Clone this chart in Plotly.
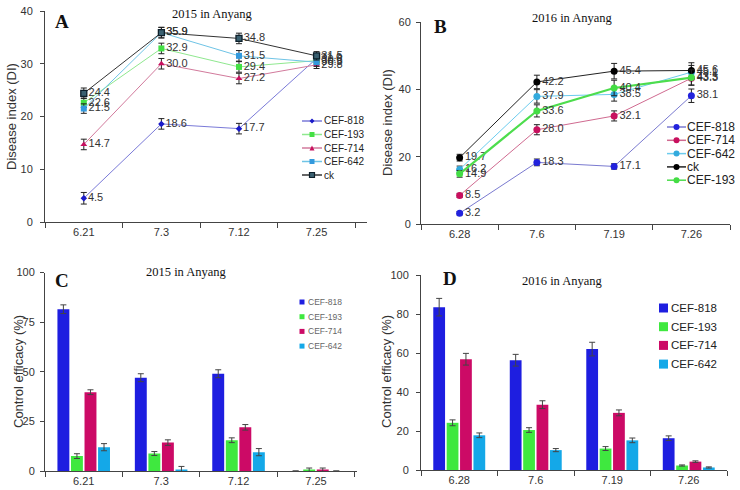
import plotly.graph_objects as go

W, H = 740, 490

# ---- panel A: disease index 2015
dates_2015 = ['6.21', '7.3', '7.12', '7.25']
di15_818 = [4.5, 18.6, 17.7, 31.0]
di15_193 = [22.6, 32.9, 29.4, 30.6]
di15_714 = [14.7, 30.0, 27.2, 29.8]
di15_642 = [21.5, 35.9, 31.5, 30.3]
di15_ck = [24.4, 35.9, 34.8, 31.5]
err15_818 = [1.1, 1.0, 1.0, 0.8]
err15_193 = [0.9, 1.0, 1.0, 0.7]
err15_714 = [1.0, 1.0, 1.0, 0.7]
err15_642 = [0.9, 1.0, 1.0, 0.8]
err15_ck = [1.0, 1.0, 1.0, 0.8]

# ---- panel B: disease index 2016
dates_2016 = ['6.28', '7.6', '7.19', '7.26']
di16_818 = [3.2, 18.3, 17.1, 38.1]
di16_714 = [8.5, 28.0, 32.1, 43.3]
di16_642 = [16.2, 37.9, 38.5, 45.1]
di16_ck = [19.7, 42.2, 45.4, 45.6]
di16_193 = [14.9, 33.6, 40.4, 43.5]
err16_818 = [0.5, 1.0, 0.8, 2.0]
err16_714 = [0.6, 1.5, 1.5, 2.0]
err16_642 = [1.0, 2.0, 2.0, 2.0]
err16_ck = [1.0, 2.0, 2.3, 2.3]
err16_193 = [1.0, 1.8, 2.3, 2.3]

# ---- panel C: control efficacy 2015
ce15_818 = [81.5, 47.0, 49.0, 0.0]
ce15_193 = [7.5, 8.8, 15.5, 0.3]
ce15_714 = [39.7, 14.3, 22.0, 0.5]
ce15_642 = [12.0, 0.8, 9.5, 0.0]
cerr15_818 = [2.2, 2.0, 2.0, 0.0]
cerr15_193 = [1.2, 1.0, 1.2, 1.2]
cerr15_714 = [1.2, 1.4, 1.4, 1.0]
cerr15_642 = [1.8, 1.5, 1.8, 0.0]

# ---- panel D: control efficacy 2016
ce16_818 = [83.5, 56.3, 62.0, 16.3]
ce16_193 = [24.2, 20.5, 11.0, 2.3]
ce16_714 = [56.8, 33.5, 29.3, 4.3]
ce16_642 = [17.8, 10.2, 15.2, 1.3]
cerr16_818 = [4.5, 3.0, 3.5, 1.2]
cerr16_193 = [1.5, 1.2, 1.0, 0.3]
cerr16_714 = [3.0, 2.0, 1.5, 0.4]
cerr16_642 = [1.2, 0.8, 1.2, 0.3]

C818, C193, C714, C642 = '#1e1ee0', '#3fe83f', '#cc0a66', '#14a8e8'

# line styles: (marker colour, line colour, symbol, size)
STYLE_A = {
    'CEF-818': ('#1a1ac8', '#7a7ad8', 'diamond', 5),
    'CEF-193': ('#44e044', '#8fe88f', 'square', 6),
    'CEF-714': ('#c8105e', '#d27a9c', 'triangle-up', 6),
    'CEF-642': ('#3399dd', '#6fc4e6', 'square', 6),
    'ck': ('#3a6070', '#333333', 'square', 6),
}
STYLE_B = {
    'CEF-818': ('#2222dd', '#7a7ad0', 'circle', 7),
    'CEF-714': ('#c8105e', '#d06a90', 'circle', 7),
    'CEF-642': ('#33aadd', '#6cccee', 'circle', 7),
    'ck': ('#000000', '#222222', 'circle', 7),
    'CEF-193': ('#44dd44', '#4ddd4d', 'circle', 7),
}


def px(x):
    return x / W


def py(y):
    return 1 - y / H


fig = go.Figure()


def line_trace(x, y, err, name, style, xa, ya, width=1):
    mcol, lcol, symbol, size = style
    mline = dict(color='#0d1f2a', width=1.3) if name == 'ck' and symbol == 'square' else dict(width=0)
    return go.Scatter(
        x=x, y=y, name=name, mode='lines+markers+text',
        texttemplate='%{y:.1f}', textposition='middle right',
        textfont=dict(size=11, color='#333'),
        line=dict(color=lcol, width=width),
        marker=dict(color=mcol, symbol=symbol, size=size, line=mline),
        error_y=dict(type='data', array=err, color='#222', thickness=1, width=3),
        xaxis=xa, yaxis=ya, showlegend=False, cliponaxis=False)


# Panel A traces
fig.add_trace(line_trace(dates_2015, di15_818, err15_818, 'CEF-818', STYLE_A['CEF-818'], 'x', 'y'))
fig.add_trace(line_trace(dates_2015, di15_193, err15_193, 'CEF-193', STYLE_A['CEF-193'], 'x', 'y'))
fig.add_trace(line_trace(dates_2015, di15_714, err15_714, 'CEF-714', STYLE_A['CEF-714'], 'x', 'y'))
fig.add_trace(line_trace(dates_2015, di15_642, err15_642, 'CEF-642', STYLE_A['CEF-642'], 'x', 'y'))
fig.add_trace(line_trace(dates_2015, di15_ck, err15_ck, 'ck', STYLE_A['ck'], 'x', 'y'))

# Panel B traces
fig.add_trace(line_trace(dates_2016, di16_818, err16_818, 'CEF-818', STYLE_B['CEF-818'], 'x2', 'y2'))
fig.add_trace(line_trace(dates_2016, di16_714, err16_714, 'CEF-714', STYLE_B['CEF-714'], 'x2', 'y2'))
fig.add_trace(line_trace(dates_2016, di16_642, err16_642, 'CEF-642', STYLE_B['CEF-642'], 'x2', 'y2'))
fig.add_trace(line_trace(dates_2016, di16_ck, err16_ck, 'ck', STYLE_B['ck'], 'x2', 'y2'))
fig.add_trace(line_trace(dates_2016, di16_193, err16_193, 'CEF-193', STYLE_B['CEF-193'], 'x2', 'y2',
                         width=2.2))


def bar_trace(x, y, err, name, color, xa, ya):
    return go.Bar(x=x, y=y, name=name, marker=dict(color=color, line=dict(width=0)),
                  error_y=dict(type='data', array=err, color='#444', thickness=1, width=3),
                  xaxis=xa, yaxis=ya, showlegend=False)


# Panel C bars
fig.add_trace(bar_trace(dates_2015, ce15_818, cerr15_818, 'CEF-818', C818, 'x3', 'y3'))
fig.add_trace(bar_trace(dates_2015, ce15_193, cerr15_193, 'CEF-193', C193, 'x3', 'y3'))
fig.add_trace(bar_trace(dates_2015, ce15_714, cerr15_714, 'CEF-714', C714, 'x3', 'y3'))
fig.add_trace(bar_trace(dates_2015, ce15_642, cerr15_642, 'CEF-642', C642, 'x3', 'y3'))

# Panel D bars
fig.add_trace(bar_trace(dates_2016, ce16_818, cerr16_818, 'CEF-818', C818, 'x4', 'y4'))
fig.add_trace(bar_trace(dates_2016, ce16_193, cerr16_193, 'CEF-193', C193, 'x4', 'y4'))
fig.add_trace(bar_trace(dates_2016, ce16_714, cerr16_714, 'CEF-714', C714, 'x4', 'y4'))
fig.add_trace(bar_trace(dates_2016, ce16_642, cerr16_642, 'CEF-642', C642, 'x4', 'y4'))

tickfont = dict(family='Liberation Sans, Arial', size=11, color='#333')
xcommon = dict(type='category', showline=True, linecolor='#444', linewidth=1,
               ticks='outside', tickson='boundaries', ticklen=5, tickcolor='#444',
               showgrid=False, tickfont=tickfont, range=[-0.5, 3.5], zeroline=False,
               automargin=False)
ycommon = dict(showline=True, linecolor='#444', linewidth=1, ticks='outside',
               ticklen=4, tickcolor='#444', showgrid=False, tickfont=tickfont,
               zeroline=False, automargin=False)

fig.update_layout(
    width=W, height=H, margin=dict(l=0, r=0, t=0, b=0, autoexpand=False),
    paper_bgcolor='white', plot_bgcolor='white', showlegend=False,
    barmode='group', bargap=0.3, bargroupgap=0.12,
    font=dict(family='Liberation Sans, Arial', color='#333'),
    xaxis=dict(xcommon, domain=[px(45), px(367)], range=[-0.5, 3.65], anchor='y'),
    yaxis=dict(ycommon, domain=[py(222), py(11)], range=[0, 40], dtick=10, anchor='x',
               ticklabelstandoff=5),
    xaxis2=dict(xcommon, domain=[px(421), px(730)], anchor='y2'),
    yaxis2=dict(ycommon, domain=[py(224), py(22)], range=[0, 60], dtick=20, anchor='x2',
                ticklabelstandoff=3),
    xaxis3=dict(xcommon, domain=[px(45), px(357)], range=[-0.5, 3.53], anchor='y3'),
    yaxis3=dict(ycommon, domain=[py(471), py(272.5)], range=[0, 100], dtick=25, anchor='x3',
                ticklabelstandoff=3),
    xaxis4=dict(xcommon, domain=[px(421), px(727)], anchor='y4'),
    yaxis4=dict(ycommon, domain=[py(470), py(275)], range=[0, 100], dtick=20, anchor='x4',
                ticklabelstandoff=5),
)


# ---- hand-built legends (tighter spacing than plotly's own legend)
def marker_shape(kind, cx, cy, s, color, edge=None):
    x0, x1 = px(cx - s / 2), px(cx + s / 2)
    y0, y1 = py(cy + s / 2), py(cy - s / 2)
    line = dict(color=edge or color, width=1.2 if edge else 0)
    if kind == 'circle':
        fig.add_shape(type='circle', xref='paper', yref='paper', x0=x0, x1=x1, y0=y0, y1=y1,
                      fillcolor=color, line=line)
    elif kind == 'square':
        fig.add_shape(type='rect', xref='paper', yref='paper', x0=x0, x1=x1, y0=y0, y1=y1,
                      fillcolor=color, line=line)
    elif kind == 'triangle-up':
        path = f'M {x0},{y0} L {x1},{y0} L {px(cx)},{y1} Z'
        fig.add_shape(type='path', xref='paper', yref='paper', path=path,
                      fillcolor=color, line=line)
    elif kind == 'diamond':
        path = f'M {x0},{py(cy)} L {px(cx)},{y1} L {x1},{py(cy)} L {px(cx)},{y0} Z'
        fig.add_shape(type='path', xref='paper', yref='paper', path=path,
                      fillcolor=color, line=line)


def legend_text(text, x, y, size, color):
    fig.add_annotation(x=px(x), y=py(y), xref='paper', yref='paper', showarrow=False,
                       text=text, xanchor='left', yanchor='middle',
                       font=dict(family='Liberation Sans, Arial', size=size, color=color))


def line_legend(styles, x0, x1, tx, y0, dy, size, msize):
    for i, (name, (mcol, lcol, symbol, _)) in enumerate(styles.items()):
        y = y0 + i * dy
        fig.add_shape(type='line', xref='paper', yref='paper', x0=px(x0), x1=px(x1),
                      y0=py(y), y1=py(y), line=dict(color=lcol, width=1.5))
        edge = '#0d1f2a' if name == 'ck' and symbol == 'square' else None
        marker_shape(symbol, (x0 + x1) / 2, y, msize, mcol, edge)
        legend_text(name, tx, y, size, '#222')


def bar_legend(names, colors, cx, tx, y0, dy, s, size, color):
    for i, (name, col) in enumerate(zip(names, colors)):
        y = y0 + i * dy
        marker_shape('square', cx, y, s, col)
        legend_text(name, tx, y, size, color)


line_legend(STYLE_A, 302, 322, 322, 121, 13.5, 10, 5)
line_legend(STYLE_B, 667, 686, 685, 127, 13.3, 12, 6)
bar_names = ['CEF-818', 'CEF-193', 'CEF-714', 'CEF-642']
bar_colors = [C818, C193, C714, C642]
bar_legend(bar_names, bar_colors, 302, 306, 302, 14.7, 5, 8.5, '#666')
bar_legend(bar_names, bar_colors, 663.5, 669, 308, 18.7, 9, 11.5, '#222')

serif = 'Liberation Serif, Times New Roman'
annots = [
    ('2015 in Anyang', 212, 14, 12.5, False),
    ('2016 in Anyang', 572, 18, 12.5, False),
    ('2015 in Anyang', 187, 272, 12.5, False),
    ('2016 in Anyang', 562, 281, 12.5, False),
    ('A', 62, 22, 19, True),
    ('B', 440, 27, 19, True),
    ('C', 62, 280, 19, True),
    ('D', 450, 278, 19, True),
]
for text, x, y, size, bold in annots:
    fig.add_annotation(x=px(x), y=py(y), xref='paper', yref='paper', showarrow=False,
                       text=f'<b>{text}</b>' if bold else text,
                       font=dict(family=serif, size=size, color='#111'),
                       xanchor='center', yanchor='middle')

ytitles = [
    ('Disease index (DI)', 12, 117),
    ('Disease index (DI)', 387, 123),
    ('Control efficacy (%)', 18, 372),
    ('Control efficacy (%)', 386, 372),
]
for text, x, y in ytitles:
    fig.add_annotation(x=px(x), y=py(y), xref='paper', yref='paper', showarrow=False,
                       text=text, textangle=-90,
                       font=dict(family='Liberation Sans, Arial', size=13, color='#333'),
                       xanchor='center', yanchor='middle')

# the page body has an 8px default margin; drop it so the figure fills the window
fig.write_html('out.html', config={'displayModeBar': False},
               post_script="document.body.style.margin='0';")
